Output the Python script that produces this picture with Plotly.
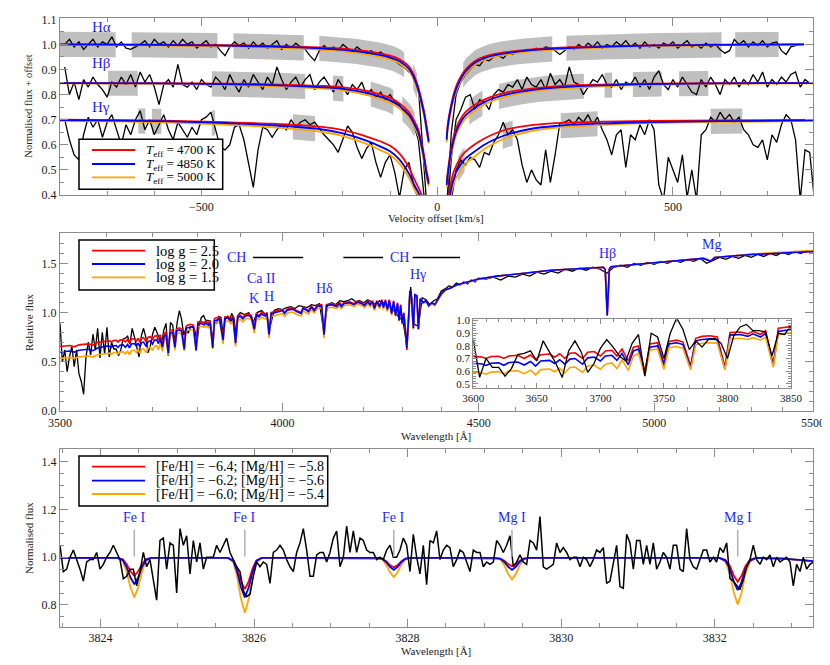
import numpy as np
import plotly.graph_objects as go

# page body has an 8px margin: the figure is drawn 8px in from the window corner
OFF = 8
W, H = 830 - OFF, 665 - OFF
FONT = "Liberation Serif"
TXT = "#1a1a1a"
AX = "#8c8c8c"
RED, BLUE, ORANGE, BLACK = "#ff0000", "#0000ff", "#ffa500", "#000000"
BAND_COLOR = "#bfbfbf"
LABEL_BLUE = "#1f1fff"

# ======================= DATA =======================
# ---- Panel 1: Balmer profiles vs velocity offset (observed, normalised + offset)
V_OBS_START = -790
V_OBS_STEP = 10
HA_OBS = [1.00, 1.02, 0.99, 1.01, 0.98, 1.00, 1.02, 0.99, 1.01, 1.00,
          1.03, 0.99, 1.01, 0.985, 0.98, 0.99, 1.00, 1.015, 0.99, 1.02,
          1.00, 1.01, 0.99, 1.015, 0.995, 1.02, 1.00, 1.01, 0.985, 1.00,
          1.015, 0.99, 1.00, 0.975, 0.955, 0.99, 1.01, 0.995, 1.005, 0.985,
          1.01, 0.99, 1.005, 0.985, 1.00, 1.015, 0.98, 1.00, 0.985, 1.005,
          0.99, 0.98, 0.955, 0.935, 0.975, 0.995, 0.98, 0.99, 0.975, 1.00,
          0.985, 0.97, 0.99, 0.975, 0.965, 0.975, 0.96, 0.97, 0.955, 0.945,
          0.935, 0.92, 0.91, 0.89, 0.88, 0.83, 0.55, 0.30, 0.20, 0.20,
          0.25, 0.35, 0.65, 0.80, 0.85, 0.88, 0.90, 0.92, 0.915, 0.94,
          0.935, 0.95, 0.955, 0.945, 0.965, 0.96, 0.975, 0.97, 0.98, 0.975,
          0.985, 0.975, 0.99, 0.985, 0.975, 0.96, 0.975, 0.99, 0.98, 1.00,
          0.985, 1.005, 0.99, 1.01, 0.985, 1.00, 0.99, 1.01, 0.995, 1.015,
          0.99, 1.005, 0.985, 1.01, 0.99, 1.00, 0.985, 1.005, 0.995, 1.01,
          0.985, 1.00, 1.015, 0.99, 1.00, 0.985, 1.005, 0.99, 1.00, 0.98,
          0.965, 0.975, 1.02, 1.00, 1.015, 0.99, 1.01, 0.995, 1.015, 0.99,
          1.005, 1.01, 0.975, 0.96, 0.99, 0.995, 1.00, None, None, None]
HB_OBS = [0.91, 0.80, 0.85, 0.78, 0.86, 0.83, 0.87, 0.84, 0.82, 0.79,
          0.85, 0.83, 0.87, 0.84, 0.88, 0.83, 0.89, 0.85, 0.88, 0.83,
          0.76, 0.84, 0.86, 0.83, 0.92, 0.84, 0.83, 0.85, 0.82, 0.86,
          0.84, 0.83, 0.87, 0.85, 0.82, 0.88, 0.84, 0.81, 0.86, 0.83,
          0.88, 0.85, 0.82, 0.87, 0.84, 0.91, 0.86, 0.82, 0.85, 0.87,
          0.83, 0.86, 0.88, 0.82, 0.85, 0.87, 0.84, 0.81, 0.86, 0.83,
          0.80, 0.84, 0.82, 0.85, 0.80, 0.82, 0.79, 0.81, 0.78, 0.80,
          0.77, 0.76, 0.73, 0.72, 0.68, 0.62, 0.45, 0.25, 0.20, 0.20,
          0.20, 0.30, 0.55, 0.70, 0.74, 0.79, 0.80, 0.74, 0.78, 0.77,
          0.74, 0.80, 0.82, 0.81, 0.84, 0.83, 0.86, 0.82, 0.87, 0.84,
          0.83, 0.86, 0.82, 0.885, 0.84, 0.86, 0.83, 0.91, 0.85, 0.84,
          0.80, 0.83, 0.86, 0.85, 0.88, 0.84, 0.83, 0.86, 0.82, 0.85,
          0.84, 0.87, 0.83, 0.86, 0.82, 0.87, 0.895, 0.84, 0.82, 0.86,
          0.83, 0.87, 0.84, 0.81, 0.80, 0.86, 0.83, 0.87, 0.84, 0.80,
          0.86, 0.84, 0.87, 0.83, 0.86, 0.84, 0.88, 0.85, 0.89, 0.83,
          0.86, 0.84, 0.87, 0.85, 0.88, 0.89, 0.83, 0.86, 0.845, 0.85]
HG_OBS = [0.70, 0.62, 0.56, 0.54, 0.64, 0.71, 0.67, 0.70, 0.63, 0.69,
          0.72, 0.66, 0.60, 0.68, 0.64, 0.70, 0.735, 0.66, 0.70, 0.64,
          0.68, 0.72, 0.66, 0.62, 0.69, 0.66, 0.63, 0.67, 0.64, 0.70,
          0.71, 0.73, 0.66, 0.59, 0.58, 0.60, 0.67, 0.68, 0.62, 0.52,
          0.43, 0.58, 0.67, 0.66, 0.63, 0.66, 0.68, 0.66, 0.70, 0.67,
          0.69, 0.70, 0.68, 0.69, 0.665, 0.64, 0.62, 0.60, 0.57, 0.62,
          0.675, 0.65, 0.59, 0.545, 0.585, 0.61, 0.53, 0.47, 0.53, 0.56,
          0.49, 0.39, 0.50, 0.53, 0.44, 0.38, 0.30, 0.20, 0.20, 0.20,
          0.20, 0.20, 0.38, 0.50, 0.54, 0.52, 0.55, 0.54, 0.51, 0.57,
          0.56, 0.61, 0.64, 0.69, 0.64, 0.66, 0.62, 0.52, 0.45, 0.50,
          0.46, 0.44, 0.58, 0.45, 0.56, 0.685, 0.69, 0.70, 0.68, 0.71,
          0.69, 0.72, 0.68, 0.71, 0.66, 0.62, 0.56, 0.64, 0.66, 0.51,
          0.64, 0.62, 0.68, 0.64, 0.70, 0.66, 0.44, 0.38, 0.55, 0.50,
          0.45, 0.56, 0.39, 0.50, 0.38, 0.64, 0.66, 0.71, 0.69, 0.73,
          0.70, 0.72, 0.69, 0.71, 0.66, 0.64, 0.60, 0.59, 0.62, 0.54,
          0.64, 0.61, 0.68, 0.72, 0.70, 0.62, 0.38, 0.58, 0.57, 0.38]

# model profiles (three Teff), blue and red wings
V_MOD_LEFT = [-800, -600, -450, -350, -250, -200, -150, -120, -100, -80, -60, -50, -40, -34, -28, -23, -18]
V_MOD_RIGHT = [20, 23, 28, 34, 40, 50, 60, 80, 100, 120, 150, 200, 250, 350, 450, 600, 797]
V_MOD_RIGHT_HA = [20, 23, 28, 34, 40, 50, 60, 80, 100, 120, 150, 200, 250, 350, 450, 600, 778]

HA_L_4700 = [1.000, 0.999, 0.997, 0.994, 0.988, 0.983, 0.973, 0.963, 0.955, 0.941, 0.913, 0.880, 0.828, 0.785, 0.735, 0.680, 0.620]
HA_L_4850 = [1.000, 0.998, 0.995, 0.991, 0.984, 0.978, 0.967, 0.957, 0.948, 0.933, 0.903, 0.870, 0.818, 0.775, 0.725, 0.670, 0.612]
HA_L_5000 = [0.999, 0.996, 0.992, 0.987, 0.979, 0.972, 0.960, 0.949, 0.940, 0.924, 0.894, 0.860, 0.808, 0.765, 0.715, 0.660, 0.605]
HA_R_4700 = [0.630, 0.690, 0.745, 0.795, 0.832, 0.872, 0.900, 0.934, 0.951, 0.961, 0.970, 0.980, 0.986, 0.992, 0.996, 0.999, 1.000]
HA_R_4850 = [0.620, 0.680, 0.735, 0.785, 0.822, 0.862, 0.892, 0.927, 0.945, 0.956, 0.966, 0.977, 0.983, 0.990, 0.995, 0.998, 1.000]
HA_R_5000 = [0.610, 0.670, 0.725, 0.775, 0.812, 0.852, 0.883, 0.919, 0.938, 0.950, 0.960, 0.972, 0.979, 0.987, 0.993, 0.997, 0.999]

HB_L_4700 = [0.847, 0.846, 0.844, 0.841, 0.835, 0.829, 0.815, 0.800, 0.787, 0.765, 0.730, 0.700, 0.660, 0.615, 0.560, 0.500, 0.455]
HB_L_4850 = [0.846, 0.845, 0.842, 0.838, 0.830, 0.823, 0.807, 0.791, 0.777, 0.754, 0.719, 0.688, 0.648, 0.603, 0.548, 0.488, 0.445]
HB_L_5000 = [0.845, 0.843, 0.839, 0.834, 0.825, 0.817, 0.799, 0.782, 0.768, 0.744, 0.708, 0.677, 0.636, 0.591, 0.536, 0.476, 0.435]
HB_R_4700 = [0.450, 0.500, 0.570, 0.625, 0.665, 0.705, 0.730, 0.760, 0.780, 0.795, 0.810, 0.824, 0.833, 0.840, 0.844, 0.846, 0.847]
HB_R_4850 = [0.440, 0.488, 0.556, 0.611, 0.651, 0.691, 0.717, 0.748, 0.770, 0.786, 0.802, 0.818, 0.828, 0.837, 0.842, 0.845, 0.846]
HB_R_5000 = [0.430, 0.476, 0.542, 0.597, 0.638, 0.678, 0.704, 0.737, 0.760, 0.777, 0.794, 0.812, 0.823, 0.833, 0.839, 0.843, 0.845]

HG_L_4700 = [0.700, 0.697, 0.690, 0.684, 0.672, 0.658, 0.633, 0.613, 0.596, 0.565, 0.510, 0.468, 0.430, 0.405, 0.375, 0.320, 0.260]
HG_L_4850 = [0.698, 0.694, 0.686, 0.678, 0.663, 0.646, 0.617, 0.593, 0.574, 0.541, 0.485, 0.445, 0.410, 0.385, 0.350, 0.295, 0.240]
HG_L_5000 = [0.695, 0.690, 0.680, 0.670, 0.653, 0.635, 0.604, 0.578, 0.559, 0.525, 0.468, 0.428, 0.395, 0.365, 0.330, 0.275, 0.220]
HG_R_4700 = [0.330, 0.380, 0.440, 0.487, 0.515, 0.550, 0.573, 0.602, 0.625, 0.643, 0.662, 0.678, 0.686, 0.692, 0.695, 0.697, 0.699]
HG_R_4850 = [0.300, 0.345, 0.410, 0.458, 0.490, 0.522, 0.545, 0.574, 0.600, 0.620, 0.642, 0.664, 0.675, 0.685, 0.690, 0.694, 0.697]
HG_R_5000 = [0.280, 0.325, 0.390, 0.438, 0.468, 0.500, 0.525, 0.554, 0.583, 0.605, 0.630, 0.655, 0.668, 0.679, 0.686, 0.691, 0.695]

# fitting windows (km/s)
HA_WINDOWS = [(-800, -682), (-648, -466), (-432, -283), (-250, -70), (-51, -43), (55, 244), (274, 603), (632, 724)]
HB_WINDOWS = [(-698, -635), (-478, -280), (-221, -199), (-141, -93), (-74, -48), (68, 96), (131, 311),
              (355, 371), (415, 476), (513, 575)]
HG_WINDOWS = [(-634, -619), (-605, -585), (-478, -471), (-306, -259), (44, 58), (139, 160), (262, 340), (580, 647)]
WINDOW_HALF_HEIGHT = 0.05

TEFF_VALUES = [4700, 4850, 5000]

# ---- Panel 2: low-resolution spectrum
OBS2_A_START, OBS2_A_STEP = 3500, 5
OBS2_A = [0.89, 0.50, 0.62, 0.40, 0.55, 0.66, 0.45, 0.62, 0.38, 0.30,
          0.17, 0.55, 0.70, 0.57, 0.78, 0.62, 0.84, 0.54, 0.80, 0.58,
          0.85, 0.55, 0.70, 0.63, 0.63, 0.56, 0.62, 0.73, 0.74, 0.76,
          0.68, 0.84, 0.75, 0.66, 0.55, 0.76, 0.84, 0.75, 0.59, 0.66,
          0.78, 0.85, 0.79, 0.72, 0.68, 0.82, 0.89, 0.56, 0.90, 0.87,
          0.70, 0.90, 1.02, 0.93, 0.77, 0.84, 0.79, 0.85, 0.86, 0.82,
          0.70, 0.88, 0.95, 0.97, 0.92, 0.92, 0.91, 0.72, 0.90, 0.89,
          0.96, 0.95, 0.78, 0.93, 0.96, 0.92, 0.99, 0.95, 0.78, 0.97,
          1.00]
OBS2_B_START, OBS2_B_STEP = 3910, 10
OBS2_B = [0.98, 1.00, 0.90, 1.00, 1.02, 0.98, 0.85, 1.02, 1.04, 1.03,
          1.05, 1.06, 1.04, 1.07, 1.06, 1.05, 1.08, 1.07, 1.09, 0.82,
          1.08, 1.10, 1.08, 1.12, 1.11, 1.12, 1.14, 1.11, 1.12, 1.10,
          1.13, 1.11, 1.08, 1.12, 1.10, 1.06, 1.05, 1.00, 0.95, 0.92,
          0.66, 1.26, 0.88, 0.86, 1.15, 1.13, 1.08, 1.12, 1.14, 1.22,
          1.24, 1.27, 1.26, 1.30, 1.28, 1.31, 1.29, 1.33, 1.31, 1.35]
OBS2_C_START, OBS2_C_STEP = 4520, 20
OBS2_C = [1.34, 1.36, 1.33, 1.37, 1.36, 1.39, 1.37, 1.41, 1.39, 1.42,
          1.40, 1.44, 1.42, 1.45, 1.43, 1.46, 1.44, 1.40, 1.46, 1.48,
          1.46, 1.50, 1.48, 1.51, 1.49, 1.52, 1.50, 1.53, 1.51, 1.54,
          1.52, 1.55, 1.50, 1.53, 1.56, 1.54, 1.57, 1.55, 1.58, 1.56,
          1.59, 1.57, 1.60, 1.58, 1.61, 1.59, 1.62, 1.60, 1.63, 1.62]

WL2 = [3500, 3520, 3530, 3540, 3560, 3570, 3580, 3590, 3600, 3606,
       3610, 3614, 3620, 3624, 3628, 3635, 3640, 3645, 3649, 3653,
       3660, 3664, 3668, 3672, 3676, 3680, 3686, 3690, 3695, 3700,
       3704, 3709, 3713, 3717, 3722, 3726, 3730, 3735, 3739, 3745,
       3750, 3754, 3760, 3765, 3771, 3775, 3780, 3786, 3792, 3798,
       3802, 3810, 3816, 3820, 3826, 3830, 3836, 3840, 3846, 3852,
       3860, 3864, 3872, 3878, 3883, 3889, 3894, 3900, 3906, 3912,
       3920, 3926, 3933, 3938, 3944, 3950, 3958, 3963, 3968, 3973,
       3980, 3990, 4000, 4005, 4012, 4025, 4034, 4045, 4050, 4063,
       4070, 4077, 4085, 4095, 4101, 4107, 4120, 4132, 4140, 4144,
       4150, 4165, 4175, 4185, 4195, 4202, 4210, 4216, 4222, 4227,
       4233, 4240, 4246, 4250, 4255, 4260, 4265, 4271, 4276, 4281,
       4286, 4290, 4294, 4298, 4302, 4306, 4310, 4314, 4318, 4322,
       4327, 4331, 4336, 4340, 4345, 4352, 4360, 4367, 4375, 4383,
       4390, 4400, 4410, 4425, 4440, 4460, 4480, 4500, 4550, 4600,
       4650, 4700, 4750, 4800, 4850, 4855, 4861, 4867, 4872, 4950,
       5050, 5150, 5172, 5185, 5300, 5400, 5500]
LOGG25 = [.655, .665, .652, .672, .682, .668, .697, .706, .715, .713,
          .700, .716, .718, .700, .720, .725, .700, .728, .690, .730,
          .735, .710, .738, .700, .742, .745, .700, .750, .755, .720,
          .760, .765, .720, .775, .680, .790, .800, .600, .815, .825,
          .660, .835, .845, .830, .640, .860, .875, .880, .870, .630,
          .905, .910, .895, .915, .890, .920, .650, .940, .950, .955,
          .740, .955, .960, .930, .965, .700, .970, .975, .950, .980,
          .985, .970, .840, .990, .970, 1.000, .980, 1.000, .780, 1.000,
          1.010, 1.020, 1.030, 1.000, 1.035, 1.045, 1.020, 1.000, 1.055, 1.020,
          1.065, 1.030, 1.075, 1.080, .780, 1.080, 1.090, 1.070, 1.100, 1.070,
          1.100, 1.110, 1.090, 1.115, 1.100, 1.080, 1.120, 1.090, 1.120, 1.050,
          1.120, 1.070, 1.130, 1.060, 1.130, 1.040, 1.130, 1.000, 1.120, .980,
          1.100, .930, 1.080, .900, 1.000, .850, .620, .900, 1.220, 1.150,
          .840, 1.180, 1.170, .830, 1.140, 1.100, 1.120, 1.070, 1.100, 1.080,
          1.120, 1.190, 1.230, 1.250, 1.280, 1.300, 1.320, 1.340, 1.370, 1.390,
          1.410, 1.430, 1.440, 1.450, 1.460, 1.440, .970, 1.440, 1.465, 1.490,
          1.520, 1.550, 1.520, 1.560, 1.590, 1.605, 1.620]
LOGG20 = [.600, .610, .598, .617, .627, .613, .640, .650, .660, .658,
          .645, .662, .665, .646, .668, .672, .648, .676, .640, .680,
          .685, .660, .690, .655, .695, .700, .655, .705, .712, .680,
          .720, .725, .685, .740, .650, .760, .775, .585, .790, .800,
          .645, .815, .825, .810, .625, .840, .850, .855, .848, .615,
          .885, .890, .875, .895, .870, .900, .640, .915, .925, .932,
          .720, .940, .945, .915, .950, .690, .955, .960, .935, .965,
          .970, .955, .830, .975, .955, .985, .965, .990, .775, .990,
          .995, 1.005, 1.020, .990, 1.025, 1.035, 1.010, .990, 1.045, 1.010,
          1.055, 1.020, 1.065, 1.070, .775, 1.070, 1.080, 1.060, 1.090, 1.060,
          1.090, 1.100, 1.080, 1.105, 1.090, 1.070, 1.110, 1.080, 1.110, 1.040,
          1.110, 1.060, 1.120, 1.050, 1.120, 1.030, 1.120, .990, 1.110, .970,
          1.090, .920, 1.070, .890, .990, .840, .640, .900, 1.220, 1.150,
          .840, 1.180, 1.170, .830, 1.140, 1.100, 1.120, 1.070, 1.100, 1.080,
          1.120, 1.190, 1.230, 1.250, 1.280, 1.300, 1.320, 1.340, 1.370, 1.390,
          1.410, 1.430, 1.440, 1.450, 1.460, 1.440, .970, 1.440, 1.465, 1.490,
          1.520, 1.550, 1.520, 1.560, 1.590, 1.605, 1.620]
LOGG15 = [.535, .545, .535, .550, .559, .548, .572, .580, .590, .588,
          .575, .592, .596, .578, .600, .603, .580, .607, .570, .612,
          .617, .595, .622, .585, .628, .632, .590, .640, .648, .615,
          .655, .665, .620, .690, .605, .720, .740, .565, .765, .775,
          .615, .785, .795, .780, .610, .810, .820, .825, .822, .610,
          .855, .860, .850, .865, .845, .870, .630, .890, .900, .905,
          .680, .910, .915, .885, .920, .655, .925, .930, .905, .935,
          .940, .925, .790, .945, .925, .955, .935, .960, .740, .960,
          .965, .975, .990, .960, .995, 1.005, .980, .965, 1.015, .985,
          1.030, .995, 1.040, 1.045, .740, 1.045, 1.055, 1.040, 1.068, 1.040,
          1.070, 1.080, 1.060, 1.085, 1.070, 1.050, 1.090, 1.060, 1.090, 1.020,
          1.090, 1.040, 1.100, 1.030, 1.100, 1.010, 1.100, .970, 1.090, .960,
          1.080, .910, 1.060, .880, .980, .840, .640, .900, 1.210, 1.140,
          .830, 1.170, 1.160, .830, 1.130, 1.090, 1.110, 1.060, 1.090, 1.070,
          1.110, 1.180, 1.220, 1.245, 1.275, 1.295, 1.315, 1.335, 1.370, 1.390,
          1.410, 1.430, 1.440, 1.450, 1.460, 1.440, .970, 1.440, 1.465, 1.490,
          1.520, 1.550, 1.530, 1.560, 1.595, 1.615, 1.630]
LOGG_VALUES = ["2.5", "2.0", "1.5"]
CH_BANDS = [(3930, 4050), (4149, 4249), (4325, 4450)]
LINE_IDS_2 = [("CH", 3890), ("CH", 4290), ("Ca II", 3950), ("K", 3933), ("H", 3968),
              ("Hδ", 4102), ("Hγ", 4340), ("Hβ", 4861), ("Mg", 5175)]

# ---- Panel 3: high-resolution zoom
OBS3_START, OBS3_STEP = 3823.472, 0.04342
OBS3 = [1.05, 0.94, 0.95, 1.00, 1.03, 0.99, 0.95, 0.90, 0.98, 0.99,
        0.99, 1.02, 0.95, 0.97, 1.00, 1.02, 1.05, 1.02, 0.99, 0.91,
        0.92, 0.95, 0.95, 0.88, 0.94, 1.02, 0.96, 0.99, 0.91, 0.82,
        1.07, 1.08, 0.95, 1.06, 1.05, 0.85, 1.12, 1.05, 1.09, 0.93,
        1.07, 0.98, 1.06, 0.95, 1.00, 1.00, 1.00, 1.05, 1.02, 1.05,
        1.08, 1.02, 0.99, 0.96, 0.94, 0.86, 0.835, 0.845, 0.92, 0.98,
        0.96, 0.98, 0.97, 0.89, 1.02, 1.03, 1.05, 1.03, 0.99, 0.96,
        0.94, 1.02, 1.06, 1.12, 1.03, 0.92, 0.92, 1.01, 1.02, 1.02,
        0.98, 1.02, 1.08, 1.11, 0.96, 1.00, 1.13, 1.02, 1.11, 1.02,
        1.08, 1.07, 1.03, 1.02, 1.02, 0.99, 1.00, 0.99, 1.03, 1.05,
        1.00, 1.00, 1.03, 1.08, 1.05, 0.94, 1.096, 1.00, 0.93, 1.05,
        0.885, 1.07, 1.06, 1.11, 0.99, 1.03, 1.05, 1.04, 0.96, 0.99,
        1.03, 1.02, 0.98, 0.94, 1.03, 1.02, 1.02, 0.96, 0.98, 0.97,
        0.98, 1.07, 1.05, 1.02, 1.05, 1.09, 0.96, 0.98, 1.01, 0.98,
        0.97, 1.07, 1.06, 1.03, 1.17, 0.96, 0.95, 0.96, 0.97, 1.06,
        1.02, 1.04, 1.02, 0.99, 1.00, 1.00, 0.96, 1.00, 0.99, 0.96,
        0.99, 1.03, 1.02, 1.04, 0.89, 0.90, 0.97, 1.05, 0.877, 0.87,
        1.096, 1.06, 0.95, 1.07, 1.07, 0.97, 1.05, 0.97, 1.06, 0.95,
        0.98, 1.02, 1.00, 0.95, 1.05, 1.05, 0.95, 0.94, 1.12, 0.99,
        0.96, 0.95, 0.99, 1.03, 1.03, 0.98, 1.00, 0.98, 1.04, 1.02,
        1.06, 0.91, 0.90, 0.88, 0.865, 0.905, 0.96, 0.99, 1.05, 0.99,
        0.97, 1.00, 0.99, 1.01, 0.96, 1.00, 0.98, 0.99, 1.00, 0.98,
        0.88, 0.97, 0.94, 1.00, 0.95, 0.97, 0.98]
WL3 = [3823.47,
       3824.22, 3824.29, 3824.34, 3824.39, 3824.44, 3824.49, 3824.54, 3824.59, 3824.66,
       3825.66, 3825.73, 3825.78, 3825.83, 3825.88, 3825.93, 3825.98, 3826.03, 3826.10,
       3827.60, 3827.67, 3827.72, 3827.77, 3827.82, 3827.87, 3827.92, 3827.97, 3828.04,
       3829.14, 3829.21, 3829.26, 3829.31, 3829.36, 3829.41, 3829.46, 3829.51, 3829.58,
       3832.06, 3832.14, 3832.20, 3832.25, 3832.30, 3832.35, 3832.40, 3832.46, 3832.54,
       3832.90, 3833.28]
FEH64 = [0.997,
         0.997, 0.991, 0.971, 0.941, 0.922, 0.941, 0.971, 0.991, 0.997,
         0.997, 0.987, 0.952, 0.899, 0.867, 0.899, 0.952, 0.987, 0.997,
         0.997, 0.994, 0.983, 0.967, 0.957, 0.967, 0.983, 0.994, 0.997,
         0.997, 0.994, 0.985, 0.971, 0.962, 0.971, 0.985, 0.994, 0.997,
         0.997, 0.989, 0.962, 0.922, 0.897, 0.922, 0.962, 0.989, 0.997,
         0.994, 0.984]
FEH62 = [0.997,
         0.997, 0.988, 0.959, 0.915, 0.887, 0.915, 0.959, 0.988, 0.997,
         0.997, 0.984, 0.939, 0.873, 0.832, 0.873, 0.939, 0.984, 0.997,
         0.997, 0.993, 0.980, 0.960, 0.947, 0.960, 0.980, 0.993, 0.997,
         0.997, 0.993, 0.980, 0.960, 0.947, 0.960, 0.980, 0.993, 0.997,
         0.997, 0.986, 0.950, 0.896, 0.862, 0.896, 0.950, 0.986, 0.997,
         0.994, 0.984]
FEH60 = [0.997,
         0.997, 0.984, 0.939, 0.873, 0.832, 0.873, 0.939, 0.984, 0.997,
         0.997, 0.979, 0.917, 0.825, 0.767, 0.825, 0.917, 0.979, 0.997,
         0.997, 0.991, 0.969, 0.937, 0.917, 0.937, 0.969, 0.991, 0.997,
         0.997, 0.990, 0.966, 0.930, 0.907, 0.930, 0.966, 0.990, 0.997,
         0.997, 0.981, 0.929, 0.851, 0.802, 0.851, 0.929, 0.981, 0.997,
         0.994, 0.984]
ABUND_LABELS = ["[Fe/H] = −6.4; [Mg/H] = −5.8",
                "[Fe/H] = −6.2; [Mg/H] = −5.6",
                "[Fe/H] = −6.0; [Mg/H] = −5.4"]
FE_I_LINES = [3824.44, 3825.88, 3827.82]
MG_I_LINES = [3829.36, 3832.30]

# ======================= FIGURE =======================
fig = go.Figure()


def px(xp):
    """window pixel -> paper fraction"""
    return (xp - OFF) / W


def py(yp):
    return 1 - (yp - OFF) / H


def add_line(x, y, color, width, xa, ya, shape="linear"):
    fig.add_trace(go.Scatter(x=x, y=y, mode="lines", xaxis=xa, yaxis=ya,
                             line=dict(color=color, width=width, shape=shape),
                             hoverinfo="skip", showlegend=False, connectgaps=False))


# ---- Panel 1
v_obs = V_OBS_START + V_OBS_STEP * np.arange(len(HA_OBS))
profiles = [
    (HA_WINDOWS, V_MOD_RIGHT_HA, HA_OBS, (HA_L_4700, HA_R_4700), (HA_L_4850, HA_R_4850), (HA_L_5000, HA_R_5000)),
    (HB_WINDOWS, V_MOD_RIGHT, HB_OBS, (HB_L_4700, HB_R_4700), (HB_L_4850, HB_R_4850), (HB_L_5000, HB_R_5000)),
    (HG_WINDOWS, V_MOD_RIGHT, HG_OBS, (HG_L_4700, HG_R_4700), (HG_L_4850, HG_R_4850), (HG_L_5000, HG_R_5000)),
]
for windows, vright, obs, m47, m48, m50 in profiles:
    v_all = np.array(V_MOD_LEFT + vright, dtype=float)
    c_all = np.array(m48[0] + m48[1], dtype=float)
    for a, b in windows:
        vs = np.linspace(a, b, 30)
        c = np.interp(vs, v_all, c_all)
        fig.add_trace(go.Scatter(x=np.concatenate([vs, vs[::-1]]),
                                 y=np.concatenate([c + WINDOW_HALF_HEIGHT, (c - WINDOW_HALF_HEIGHT)[::-1]]),
                                 fill="toself", fillcolor=BAND_COLOR, line=dict(width=0), mode="lines",
                                 xaxis="x", yaxis="y", hoverinfo="skip", showlegend=False))
for windows, vright, obs, m47, m48, m50 in profiles:
    add_line(v_obs, obs, BLACK, 1.3, "x", "y")
for windows, vright, obs, m47, m48, m50 in profiles:
    for m, col in ((m47, RED), (m50, ORANGE), (m48, BLUE)):
        add_line(V_MOD_LEFT, m[0], col, 1.8, "x", "y", "spline")
        add_line(vright, m[1], col, 1.8, "x", "y", "spline")

# ---- Panel 2 (main + inset)
wl_obs2 = np.concatenate([OBS2_A_START + OBS2_A_STEP * np.arange(len(OBS2_A)),
                          OBS2_B_START + OBS2_B_STEP * np.arange(len(OBS2_B)),
                          OBS2_C_START + OBS2_C_STEP * np.arange(len(OBS2_C))])
fl_obs2 = OBS2_A + OBS2_B + OBS2_C
add_line(wl_obs2, fl_obs2, BLACK, 1.3, "x2", "y2")
for m, col in ((LOGG25, RED), (LOGG15, ORANGE), (LOGG20, BLUE)):
    add_line(WL2, m, col, 1.6, "x2", "y2")
for a, b in CH_BANDS:
    add_line([a, b], [1.56, 1.56], BLACK, 1.5, "x2", "y2")
for m, col in ((LOGG25, RED), (LOGG20, BLUE), (LOGG15, ORANGE)):
    add_line(WL2, m, col, 1.6, "x4", "y4")
add_line(wl_obs2, fl_obs2, BLACK, 1.3, "x4", "y4")

# ---- Panel 3
for m, col in ((FEH64, RED), (FEH60, ORANGE), (FEH62, BLUE)):
    add_line(WL3, m, col, 1.8, "x3", "y3")
wl_obs3 = OBS3_START + OBS3_STEP * np.arange(len(OBS3))
add_line(wl_obs3, OBS3, BLACK, 1.5, "x3", "y3")
for lam in FE_I_LINES + MG_I_LINES:
    add_line([lam, lam], [1.003, 1.115], "#b0b0b0", 1.5, "x3", "y3")


# ---- axes
def axis(dom, anchor, rng, tickvals, ticktext, minor, ticklen=8, fs=12, **kw):
    d = dict(domain=dom, anchor=anchor, range=rng, tickmode="array", tickvals=tickvals, ticktext=ticktext,
             showline=True, linecolor=AX, linewidth=1.3, mirror="allticks", ticks="inside",
             ticklen=ticklen, tickwidth=1.1, tickcolor=AX, showgrid=False, zeroline=False,
             automargin=False, tickfont=dict(family=FONT, size=fs, color=TXT), minor=minor)
    d.update(kw)
    return d


def mnr(ticklen=4, **kw):
    d = dict(ticks="inside", ticklen=ticklen, tickwidth=1, tickcolor=AX, showgrid=False)
    d.update(kw)
    return d


XD = [px(60), px(813)]
fig.update_layout(
    template="none",
    width=W, height=H, autosize=False,
    margin=dict(l=0, r=0, t=0, b=0, pad=0, autoexpand=False),
    paper_bgcolor="white", plot_bgcolor="white", showlegend=False,
    font=dict(family=FONT, color=TXT),
    xaxis=axis(XD, "y", [-800, 797], [-500, 0, 500], ["−500", "0", "500"], mnr(dtick=100, tick0=0)),
    yaxis=axis([py(195), py(18.3)], "x", [0.4, 1.104], [0.4, 0.5, 0.6, 0.7, 0.8, 0.9, 1.0, 1.1],
               ["0.4", "0.5", "0.6", "0.7", "0.8", "0.9", "1.0", "1.1"], mnr(dtick=0.05, tick0=0)),
    xaxis2=axis(XD, "y2", [np.log10(3500), np.log10(5500)], [3500, 4000, 4500, 5000, 5500],
                ["3500", "4000", "4500", "5000", "5500"],
                mnr(tickmode="array", tickvals=[w for w in range(3600, 5500, 100) if w % 500]), type="log"),
    yaxis2=axis([py(411), py(233.3)], "x2", [0, 1.805], [0, 0.5, 1.0, 1.5], ["0.0", "0.5", "1.0", "1.5"],
                mnr(dtick=0.1, tick0=0)),
    xaxis3=axis(XD, "y3", [3823.472, 3833.281], [3824, 3826, 3828, 3830, 3832],
                ["3824", "3826", "3828", "3830", "3832"], mnr(dtick=0.5, tick0=3824)),
    yaxis3=axis([py(626.7), py(449.3)], "x3", [0.709, 1.452], [0.8, 1.0, 1.2, 1.4], ["0.8", "1.0", "1.2", "1.4"],
                mnr(dtick=0.05, tick0=0)),
    xaxis4=axis([px(473.3), px(791)], "y4", [3600, 3850], [3600, 3650, 3700, 3750, 3800, 3850],
                ["3600", "3650", "3700", "3750", "3800", "3850"], mnr(ticklen=3, dtick=10, tick0=3600),
                ticklen=5, fs=11),
    yaxis4=axis([py(388), py(319.3)], "x4", [0.466, 1.0105], [0.5, 0.6, 0.7, 0.8, 0.9, 1.0],
                ["0.5", "0.6", "0.7", "0.8", "0.9", "1.0"], mnr(ticklen=3, dtick=0.02, tick0=0),
                ticklen=5, fs=11),
)


# ---- annotations: axis titles
def ptext(x, y, t, size=11, angle=0, color=TXT, anchor="center"):
    fig.add_annotation(xref="paper", yref="paper", x=px(x), y=py(y), text=t, showarrow=False,
                       textangle=angle, xanchor=anchor, yanchor="middle",
                       font=dict(family=FONT, size=size, color=color))


ptext(436.5, 218, "Velocity offset [km/s]")
ptext(29, 106.7, "Normalised flux + offset", angle=-90, size=10.5)
ptext(436.5, 435.5, "Wavelength [Å]")
ptext(29, 322, "Relative flux", angle=-90)
ptext(436.5, 651, "Wavelength [Å]")
ptext(29, 538, "Normalised flux", angle=-90)

# ---- line identifications
for name, yv in zip(["Hα", "Hβ", "Hγ"], [1.07, 0.924, 0.75]):
    fig.add_annotation(xref="x", yref="y", x=-713, y=yv, text=name, showarrow=False,
                       font=dict(family=FONT, size=15, color=LABEL_BLUE))
LABEL2_Y = {"CH": 1.56, "Ca II": 1.35, "K": 1.146, "H": 1.163, "Hδ": 1.248, "Hγ": 1.387, "Hβ": 1.60, "Mg": 1.69}
for name, lam in LINE_IDS_2:
    fig.add_annotation(xref="x2", yref="y2", x=np.log10(lam), y=LABEL2_Y[name], text=name, showarrow=False,
                       font=dict(family=FONT, size=14, color=LABEL_BLUE))
for lam in FE_I_LINES:
    fig.add_annotation(xref="x3", yref="y3", x=lam, y=1.166, text="Fe I", showarrow=False,
                       font=dict(family=FONT, size=14, color=LABEL_BLUE))
for lam in MG_I_LINES:
    fig.add_annotation(xref="x3", yref="y3", x=lam, y=1.166, text="Mg I", showarrow=False,
                       font=dict(family=FONT, size=14, color=LABEL_BLUE))


# ---- legends (boxes drawn in pixel layout)
def legend(box, ys, lx, tx, texts, fs=14):
    x0, y0, x1, y1 = box
    fig.add_shape(type="rect", xref="paper", yref="paper", x0=px(x0), x1=px(x1), y0=py(y1), y1=py(y0),
                  line=dict(color="black", width=1.5), fillcolor="white", layer="above")
    for yy, t, col in zip(ys, texts, (RED, BLUE, ORANGE)):
        fig.add_shape(type="line", xref="paper", yref="paper", x0=px(lx[0]), x1=px(lx[1]), y0=py(yy), y1=py(yy),
                      line=dict(color=col, width=1.8), layer="above")
        fig.add_annotation(xref="paper", yref="paper", x=px(tx), y=py(yy), text=t, showarrow=False,
                           xanchor="left", yanchor="middle", font=dict(family=FONT, size=fs, color="black"))


legend((79, 139.3, 222.7, 189.3), (150, 164, 177.3), (92, 135), 144,
       [f"<i>T</i><sub>eff</sub> = {t} K" for t in TEFF_VALUES], fs=13)
legend((79, 240, 214.3, 290), (250.7, 264, 277.3), (92, 145), 154,
       [f"log g = {g}" for g in LOGG_VALUES], fs=14.5)
legend((79, 456, 327.7, 506), (466.7, 480.7, 494), (92, 145), 154, ABUND_LABELS)

fig.write_html("out.html")
